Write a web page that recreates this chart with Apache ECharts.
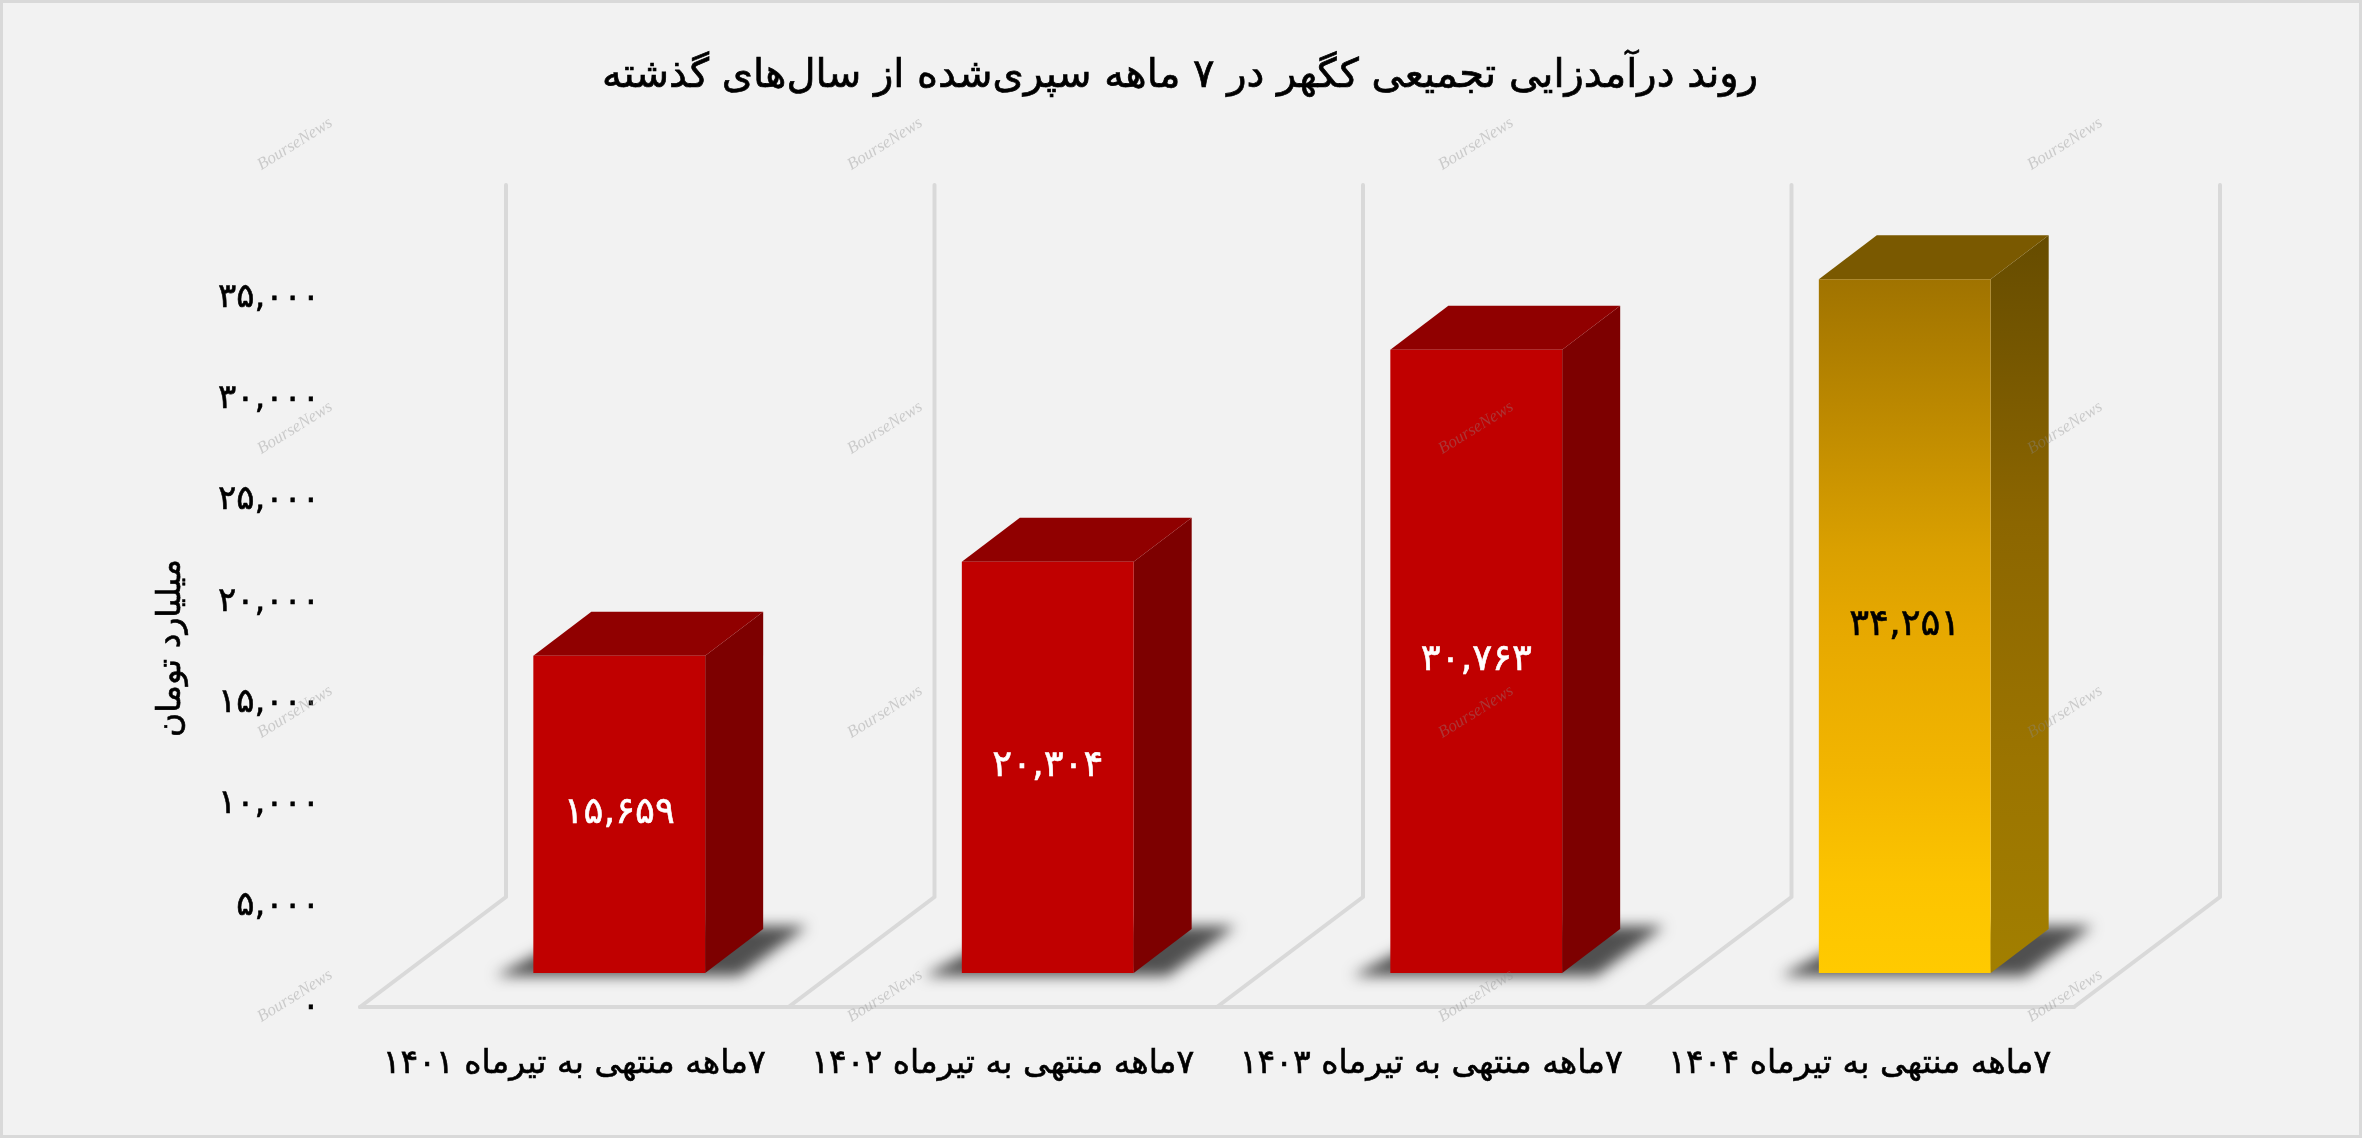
<!DOCTYPE html>
<html><head><meta charset="utf-8">
<style>html,body{margin:0;padding:0;background:#f2f2f2}#main{width:2362px;height:1138px}</style>
<script src="https://cdn.jsdelivr.net/npm/echarts@6/dist/echarts.min.js"></script>
</head><body><div id="main"></div>
<script>
const titleText = 'روند درآمدزایی تجمیعی کگهر در ۷ ماهه سپری‌شده از سال‌های گذشته';
const yAxisName = 'میلیارد تومان';
const categories = ['۷ماهه منتهی به تیرماه ۱۴۰۱','۷ماهه منتهی به تیرماه ۱۴۰۲','۷ماهه منتهی به تیرماه ۱۴۰۳','۷ماهه منتهی به تیرماه ۱۴۰۴'];
const values = [15659, 20304, 30763, 34251];
const valueLabels = ['۱۵,۶۵۹','۲۰,۳۰۴','۳۰,۷۶۳','۳۴,۲۵۱'];
const yTickLabels = ['۰','۵,۰۰۰','۱۰,۰۰۰','۱۵,۰۰۰','۲۰,۰۰۰','۲۵,۰۰۰','۳۰,۰۰۰','۳۵,۰۰۰'];
const watermarkX = [295, 885, 1476, 2065];
const watermarkY = [144, 428, 712, 996];

const FONT = '"DejaVu Sans","Noto Sans",sans-serif';
const RLM = '\u200F';
// floor and bar depth, pixels of the oblique projection
const floorDX = 146, floorDY = 110, wallExtra = 3;
const frontDX = 45, frontDY = 34, depthDX = 58, depthDY = 44, barRatio = 0.401;
const wallColor = '#d9d9d9';
const OFF = 6000; // the floor shadow's shape sits off-canvas so that only its blur shows

const red = {front:'#c00000', side:'#7d0000', top:'#900000'};
const gold = {
  front:{type:'linear',x:0,y:0,x2:0,y2:1,colorStops:[{offset:0,color:'#a07300'},{offset:0.39,color:'#daa000'},{offset:0.5,color:'#e6a800'},{offset:0.71,color:'#f2b500'},{offset:0.87,color:'#fcc400'},{offset:1,color:'#ffca00'}]},
  side:{type:'linear',x:0,y:0,x2:0,y2:1,colorStops:[{offset:0,color:'#664c00'},{offset:0.39,color:'#8c6600'},{offset:0.71,color:'#9b7400'},{offset:1,color:'#a27f00'}]},
  top:'#7a5900'
};

function renderWall(params, api){
  const i = api.value(0);
  const base = api.coord([i, 0]);
  const top = api.coord([i, 35000]);
  const w = api.size([1, 0])[0];
  const ln = (pts)=>({type:'polyline',shape:{points:pts},style:{stroke:wallColor,lineWidth:4,fill:null,lineCap:'round',lineJoin:'round'},silent:true});
  const L = base[0]-w/2, R = base[0]+w/2, Y = base[1];
  const kids = [ln([[L,Y],[L+floorDX,Y-floorDY],[L+floorDX,top[1]-floorDY-wallExtra]]), ln([[L,Y],[R,Y]])];
  if (i === categories.length-1) kids.push(ln([[R,Y],[R+floorDX,Y-floorDY],[R+floorDX,top[1]-floorDY-wallExtra]]));
  return {type:'group',children:kids};
}

function renderBar(params, api){
  const i = api.value(0), v = api.value(1);
  const c0 = api.coord([i, 0]), c1 = api.coord([i, v]);
  const bw = api.size([1, 0])[0]*barRatio;
  const x0 = c0[0]+frontDX-bw/2, x1 = x0+bw;
  const yb = c0[1]-frontDY, yt = c1[1]-frontDY;
  const col = i === categories.length-1 ? gold : red;
  const poly = (pts, fill, extra)=>({type:'polygon',shape:{points:pts},style:Object.assign({fill:fill},extra||{})});
  return {type:'group',children:[
    poly([[x0-38-OFF,yb+3],[x1+34-OFF,yb+3],[x1+depthDX+44-OFF,yb-depthDY-3],[x0+depthDX-OFF,yb-depthDY-3]],'#000',{shadowBlur:14,shadowColor:'#505050',shadowOffsetX:OFF}),
    poly([[x1,yb],[x1+depthDX,yb-depthDY],[x1+depthDX,yt-depthDY],[x1,yt]],col.side),
    poly([[x0,yt],[x1,yt],[x1+depthDX,yt-depthDY],[x0+depthDX,yt-depthDY]],col.top),
    {type:'rect',shape:{x:x0,y:yt,width:bw,height:yb-yt},style:{fill:col.front}},
    {type:'text',style:{text:valueLabels[i],x:(x0+x1)/2,y:(yt+yb)/2-1,align:'center',verticalAlign:'middle',
      fill:col===gold?'#000':'#fff',stroke:col===gold?'#000':'#fff',lineWidth:0.6,font:'37px '+FONT}}
  ]};
}

const watermarks = [];
watermarkX.forEach(x=>watermarkY.forEach(y=>watermarks.push({
  type:'text',x:x,y:y,rotation:32*Math.PI/180,z:100,silent:true,
  style:{text:'BourseNews',align:'center',verticalAlign:'middle',fill:'rgba(140,140,140,0.38)',font:'italic 17px "Liberation Serif",serif'}
})));

const chart = echarts.init(document.getElementById('main'),null,{renderer:'canvas'});
chart.setOption({
  animation:false,
  backgroundColor:'#f2f2f2',
  title:{text:titleText,top:57,padding:0,left:1180,textAlign:'center',
    textStyle:{fontFamily:FONT,fontWeight:'normal',fontSize:40,color:'#000',textBorderColor:'#000',textBorderWidth:0.7}},
  grid:{left:360,right:288,top:298,bottom:131,containLabel:false},
  xAxis:{type:'category',data:categories,axisLine:{show:false},axisTick:{show:false},
    axisLabel:{margin:41,color:'#000',fontFamily:FONT,fontSize:33,interval:0,textBorderColor:'#000',textBorderWidth:0.6,formatter:(s)=>RLM+s}},
  yAxis:{type:'value',min:0,max:35000,interval:5000,splitLine:{show:false},axisLine:{show:false},axisTick:{show:false},
    name:yAxisName,nameLocation:'middle',nameRotate:90,nameGap:172,
    nameTextStyle:{color:'#000',fontFamily:FONT,fontSize:33,padding:[0,0,0,9],textBorderColor:'#000',textBorderWidth:0.6},
    axisLabel:{margin:40,color:'#000',fontFamily:FONT,fontSize:34,textBorderColor:'#000',textBorderWidth:0.6,formatter:(v,idx)=>yTickLabels[idx]}},
  series:[
    {type:'custom',name:'walls',renderItem:renderWall,data:categories.map((c,i)=>[i,0]),clip:false,z:1,silent:true,encode:{x:0,y:1}},
    {type:'custom',name:'bars',renderItem:renderBar,data:values.map((v,i)=>[i,v]),clip:false,z:2,encode:{x:0,y:1}}
  ],
  graphic:[
    {type:'rect',z:90,silent:true,shape:{x:1.5,y:1.5,width:2359,height:1135},style:{fill:null,stroke:'#d9d9d9',lineWidth:3}},
    ...watermarks
  ]
});
</script></body></html>
